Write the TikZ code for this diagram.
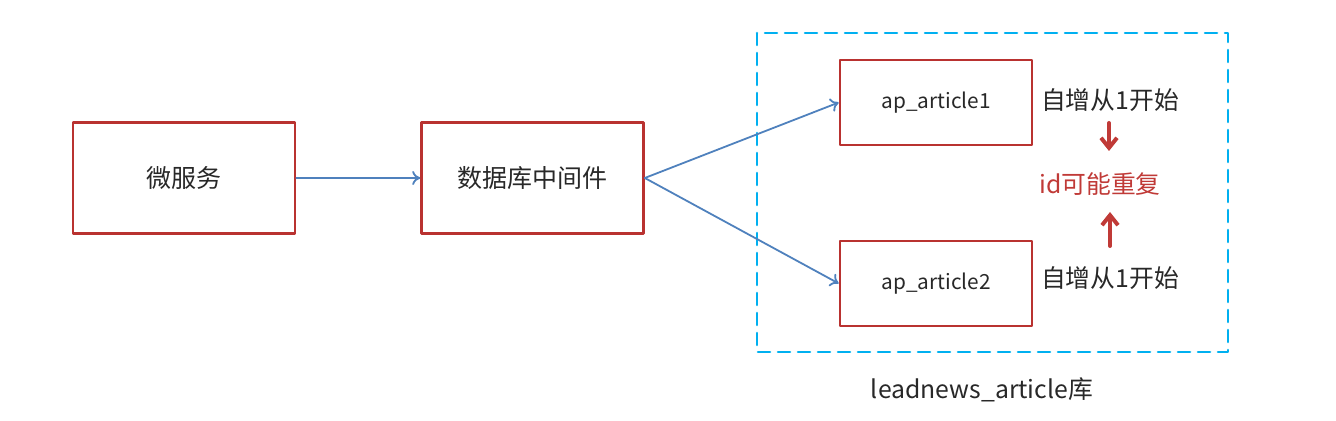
\documentclass[tikz,border=0pt]{standalone}
\usepackage{fontspec}
\setmainfont{Noto Sans CJK SC}
\usetikzlibrary{arrows,arrows.meta}
\definecolor{boxred}{RGB}{185,50,48}
\definecolor{lineblue}{RGB}{79,129,189}
\definecolor{dashcyan}{RGB}{0,176,240}
\definecolor{textred}{RGB}{192,58,55}
\definecolor{textgray}{RGB}{40,40,40}
\tikzset{
  svcbox/.style={draw=boxred,line width=1.3pt,minimum width=111pt,minimum height=55.5pt,font=\fontsize{12.5}{14}\selectfont,text=textgray},
  tblbox/.style={draw=boxred,line width=1.3pt,minimum width=96pt,minimum height=42.5pt,font=\fontsize{10.4}{12}\selectfont,text=textgray},
  flow/.style={draw=lineblue,line width=0.9pt,-{To[length=4pt,width=7pt]}},
  redflow/.style={draw=textred,line width=2pt,-{Straight Barb[length=5pt,width=8pt]}},
  note/.style={font=\fontsize{12.4}{14}\selectfont,text=textgray},
}
\begin{document}
\begin{tikzpicture}[line cap=round,line join=round,x=0.5pt,y=-0.5pt]
\useasboundingbox (0,0) rectangle (1336,421);
%\draw[help lines] (0,0) grid (1336,421);
\draw [dashcyan,line width=1.3pt,dash pattern=on 6pt off 4pt] (757,33) rectangle (1228,352);
\node [svcbox] (svc) at (184,178) {微服务};
\node [svcbox] (mid) at (532.5,178) {数据库中间件};
\node [tblbox] (art1) at (936,102.5) {ap\_article1};
\node [tblbox] (art2) at (936,283.5) {ap\_article2};
\draw [flow] (svc.east) -- (mid.west);
\draw [flow] (mid.east) -- (art1.west);
\draw [flow] (mid.east) -- (art2.west);
\node [note] (inc1) at (1110,100) {自增从1开始};
\node [note] (inc2) at (1110,278) {自增从1开始};
\node [note,text=textred] (dup) at (1100,184) {id可能重复};
% red arrows towards the clash
\coordinate (dn0) at (1109,123);
\coordinate (dn1) at (1109,151);
\coordinate (up0) at (1110,246);
\coordinate (up1) at (1110,212);
\draw [redflow] (dn0) -- (dn1);
\draw [redflow] (up0) -- (up1);
\node [note] (db) at (982,390) {leadnews\_article库};
\end{tikzpicture}
\end{document}
